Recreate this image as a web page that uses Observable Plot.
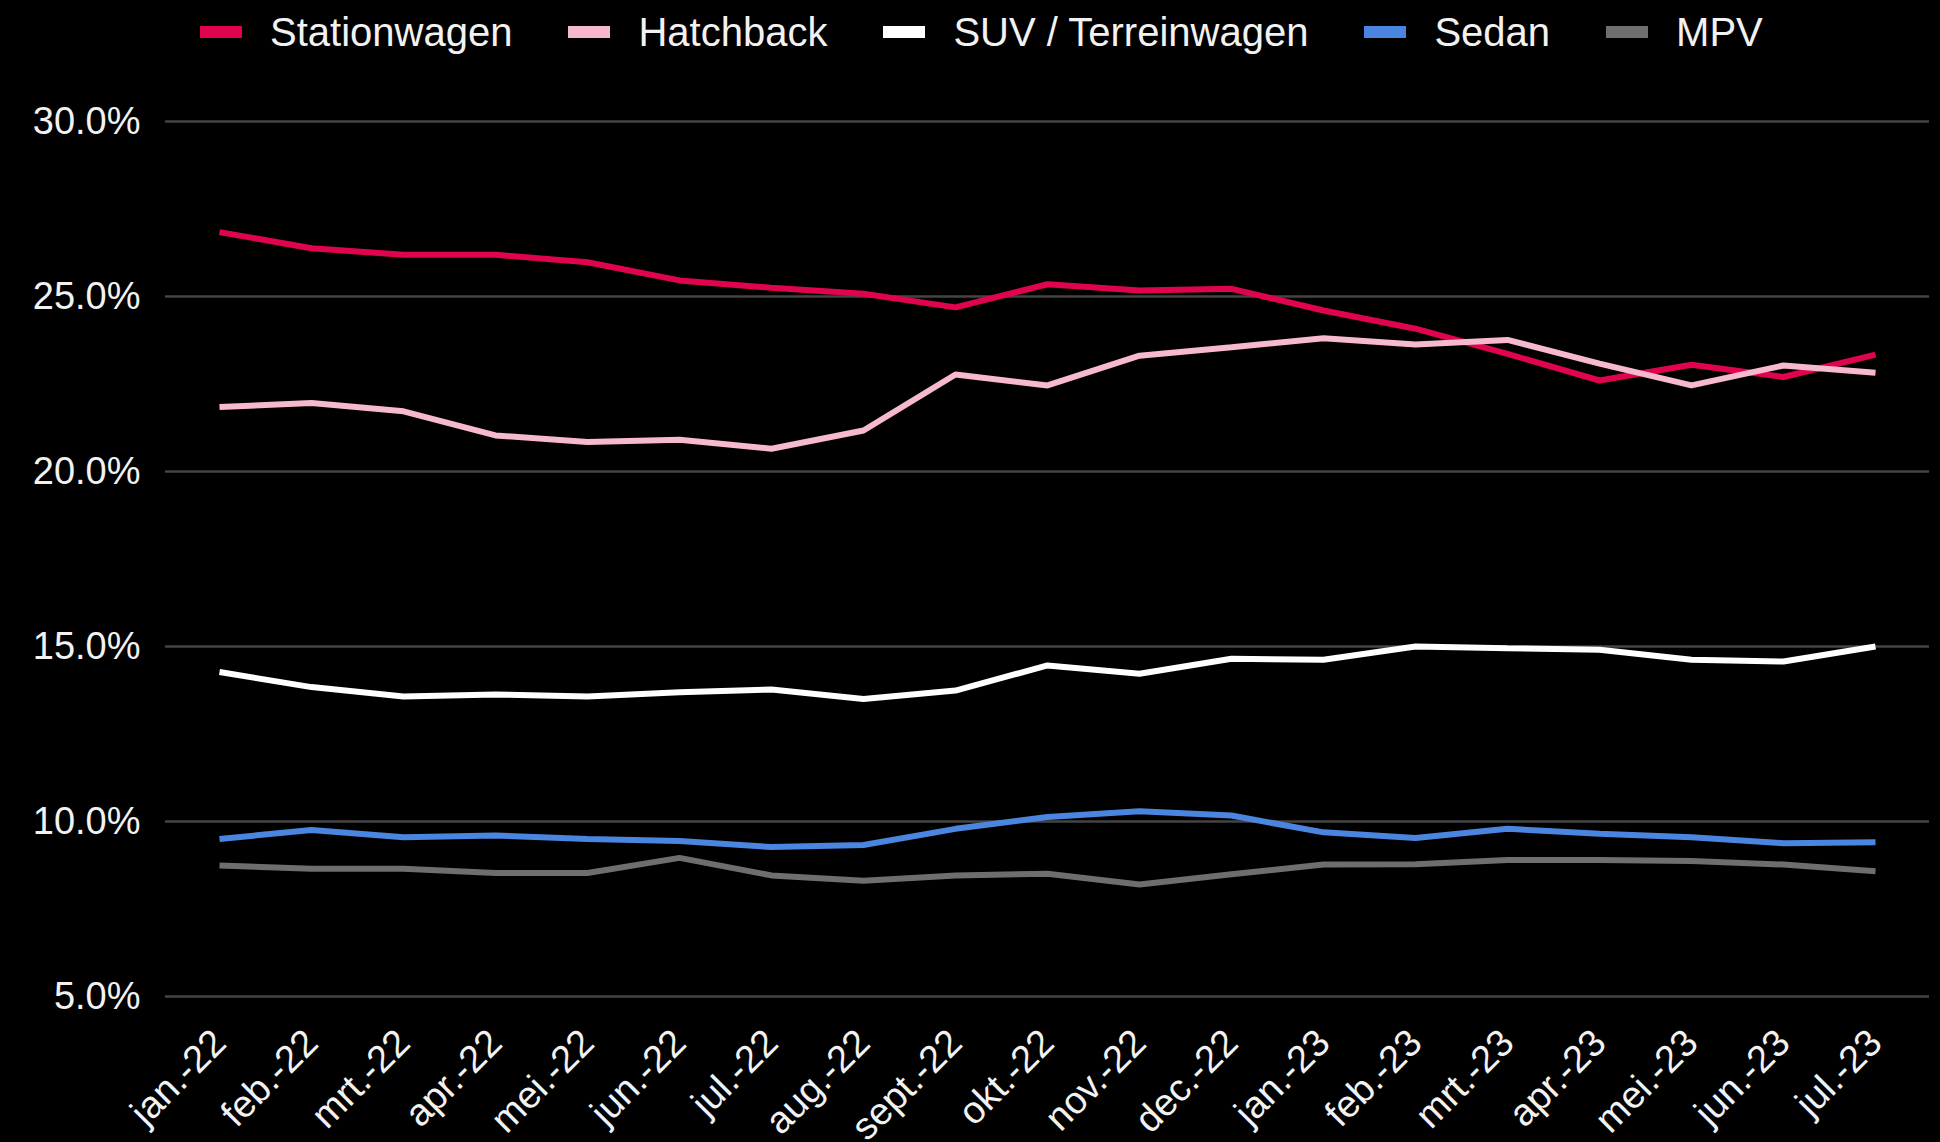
<!DOCTYPE html>
<html>
<head>
<meta charset="utf-8">
<script src="https://cdn.jsdelivr.net/npm/d3@7"></script>
<script src="https://cdn.jsdelivr.net/npm/@observablehq/plot@0.6"></script>
<style>
  html, body { margin: 0; padding: 0; background: #000; }
  body { width: 1940px; height: 1142px; overflow: hidden; font-family: "Liberation Sans", Arial, sans-serif; }
  #legend { height: 64px; display: flex; align-items: center; padding-left: 200px; box-sizing: border-box; }
  .item { display: flex; align-items: center; margin-right: 56px; color: #f2f2f2; font-size: 40px; line-height: 1; }
  .sw { width: 42px; height: 12px; margin-right: 28px; }
</style>
</head>
<body>
<div id="legend"></div>
<div id="chart"></div>
<script>
const months = ["jan.-22","feb.-22","mrt.-22","apr.-22","mei.-22","jun.-22","jul.-22","aug.-22","sept.-22","okt.-22","nov.-22","dec.-22","jan.-23","feb.-23","mrt.-23","apr.-23","mei.-23","jun.-23","jul.-23"];
const seriesNames = ["Stationwagen","Hatchback","SUV / Terreinwagen","Sedan","MPV"];
const seriesColors = ["#e0044f","#f7b9cf","#ffffff","#4a86e0","#6e6e6e"];
const stationwagen = [26.84,26.38,26.19,26.19,25.98,25.46,25.25,25.08,24.69,25.35,25.17,25.22,24.60,24.08,23.36,22.60,23.05,22.70,23.34];
const hatchback    = [21.84,21.96,21.72,21.03,20.84,20.91,20.65,21.17,22.77,22.46,23.31,23.55,23.81,23.63,23.76,23.08,22.46,23.03,22.82];
const suv          = [14.27,13.84,13.57,13.63,13.57,13.69,13.77,13.50,13.74,14.46,14.22,14.65,14.62,15.00,14.95,14.91,14.62,14.57,15.00];
const sedan        = [9.50,9.76,9.55,9.60,9.50,9.44,9.27,9.33,9.79,10.13,10.29,10.17,9.69,9.53,9.79,9.65,9.55,9.38,9.41];
const mpv          = [8.74,8.65,8.65,8.53,8.53,8.96,8.46,8.31,8.46,8.51,8.20,8.49,8.77,8.78,8.90,8.90,8.87,8.77,8.58];
const yTicks = [5,10,15,20,25,30];

const seriesValues = [stationwagen, hatchback, suv, sedan, mpv];
const data = [];
seriesNames.forEach((name, s) => {
  months.forEach((m, i) => data.push({series: name, month: m, value: seriesValues[s][i]}));
});

// legend
const legend = document.getElementById("legend");
seriesNames.forEach((name, i) => {
  const it = document.createElement("div");
  it.className = "item";
  const sw = document.createElement("span");
  sw.className = "sw";
  sw.style.background = seriesColors[i];
  const tx = document.createElement("span");
  tx.textContent = name;
  it.appendChild(sw); it.appendChild(tx);
  legend.appendChild(it);
});

const chart = Plot.plot({
  width: 1940,
  height: 1078,
  marginTop: 57,
  marginBottom: 146,
  marginLeft: 165,
  marginRight: 11,
  style: { background: "#000", color: "#f2f2f2", fontSize: "38px", fontFamily: "'Liberation Sans', Arial, sans-serif" },
  x: { type: "point", domain: months, padding: 0.5, label: null, tickSize: 0, tickPadding: 40, tickRotate: -45 },
  y: { domain: [5, 30], ticks: yTicks, tickFormat: d => d.toFixed(1) + "%", label: null, tickSize: 0, tickPadding: 25 },
  color: { domain: seriesNames, range: seriesColors },
  marks: [
    Plot.ruleY(yTicks, { stroke: "#444", strokeWidth: 2.5 }),
    Plot.lineY(data, { x: "month", y: "value", stroke: "series", z: "series", strokeWidth: 6, strokeLinejoin: "miter", strokeLinecap: "butt" })
  ]
});
document.getElementById("chart").appendChild(chart);
</script>
</body>
</html>
